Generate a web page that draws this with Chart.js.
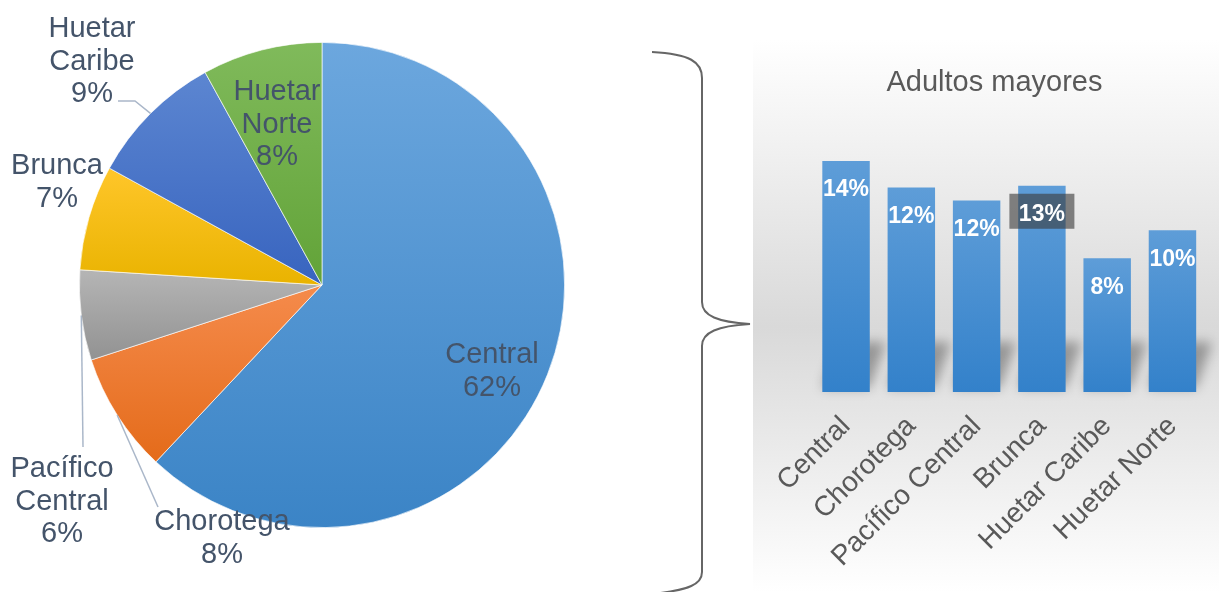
<!DOCTYPE html>
<html>
<head>
<meta charset="utf-8">
<script src="https://cdn.jsdelivr.net/npm/chart.js@4.4.0/dist/chart.umd.min.js"></script>
<style>
  html, body { margin: 0; padding: 0; background: #fff; overflow: hidden; }
  #wrap { position: relative; width: 1219px; height: 592px; }
  #pieBox { position: absolute; left: 0; top: 0; width: 660px; height: 592px; }
  #barBg { position: absolute; left: 753px; top: 40px; width: 466px; height: 552px;
    background: linear-gradient(to bottom, #fff 0%, #d9d9d9 52%, #fff 100%); }
  #barBox { position: absolute; left: 753px; top: 0; width: 466px; height: 592px; }
  #brace { position: absolute; left: 0; top: 0; }
</style>
</head>
<body>
<div id="wrap">
  <div id="barBg"></div>
  <div id="pieBox"><canvas id="pieChart"></canvas></div>
  <div id="barBox"><canvas id="barChart"></canvas></div>
  <svg id="brace" width="1219" height="592">
    <path d="M652,52 C690,54 702,62 702,78 L702,302 C702,316 718,322 750,324 C718,326 702,332 702,346 L702,572 C702,584 690,590 652,594"
          fill="none" stroke="#666" stroke-width="2"/>
  </svg>
</div>
<script>
const regions = ["Central", "Chorotega", "Pacífico Central", "Brunca", "Huetar Caribe", "Huetar Norte"];
const pieShares = [62, 8, 6, 7, 9, 8];
const adultShares = [14, 12.4, 11.6, 12.5, 8.1, 9.8];
const adultLabels = ["14%", "12%", "12%", "13%", "8%", "10%"];
const barTitle = "Adultos mayores";

const fontFamily = "'Liberation Sans', Arial, sans-serif";

// slice gradients (top -> bottom)
const pieTop = ["#6ca7de", "#f58b4c", "#b5b5b5", "#ffc62a", "#5c86d1", "#80ba5b"];
const pieBottom = ["#3b84c6", "#e46b1a", "#929292", "#e9b300", "#3864bf", "#62a338"];

// where each pie label sits (centre of first line) and its leader line
const pieLabelPos = [[492, 355], [222, 522], [62, 469], [57, 166], [92, 29], [277, 92]];
const leaderEnds = { 1: [[158, 507]], 2: [[83, 447]], 4: [[135, 101], [118, 101]] };

function sliceFill(c) {
  const chart = c.chart, area = chart.chartArea, i = c.dataIndex;
  if (!area) return pieTop[i];
  const cy = (area.top + area.bottom) / 2;
  const r = Math.min(area.width, area.height) / 2;
  const total = pieShares.reduce((a, b) => a + b, 0);
  let before = 0;
  for (let k = 0; k < i; k++) before += pieShares[k];
  const a0 = before / total * 2 * Math.PI;
  const a1 = (before + pieShares[i]) / total * 2 * Math.PI;
  const ys = [cy, cy - r * Math.cos(a0), cy - r * Math.cos(a1)];
  if (a0 <= 0) ys.push(cy - r);
  if (a0 < Math.PI && a1 > Math.PI) ys.push(cy + r);
  const g = chart.ctx.createLinearGradient(0, Math.min(...ys), 0, Math.max(...ys));
  g.addColorStop(0, pieTop[i]);
  g.addColorStop(1, pieBottom[i]);
  return g;
}

const pieLabels = {
  id: "pieLabels",
  afterDraw(chart) {
    const ctx = chart.ctx;
    const arcs = chart.getDatasetMeta(0).data;
    ctx.save();
    // leader lines
    ctx.strokeStyle = "#aab7c9";
    ctx.lineWidth = 1.5;
    Object.keys(leaderEnds).forEach(k => {
      const arc = arcs[k];
      const mid = (arc.startAngle + arc.endAngle) / 2;
      ctx.beginPath();
      ctx.moveTo(arc.x + arc.outerRadius * Math.cos(mid), arc.y + arc.outerRadius * Math.sin(mid));
      leaderEnds[k].forEach(p => ctx.lineTo(p[0], p[1]));
      ctx.stroke();
    });
    // texts
    ctx.fillStyle = "#44546a";
    ctx.font = "29px " + fontFamily;
    ctx.textAlign = "center";
    ctx.textBaseline = "middle";
    regions.forEach((name, i) => {
      const lines = name.split(" ").concat([pieShares[i] + "%"]);
      lines.forEach((t, j) => ctx.fillText(t, pieLabelPos[i][0], pieLabelPos[i][1] + j * 32.7));
    });
    ctx.restore();
  }
};

new Chart(document.getElementById("pieChart"), {
  type: "pie",
  data: {
    labels: regions,
    datasets: [{
      data: pieShares,
      backgroundColor: sliceFill,
      borderColor: "rgba(255,255,255,0.8)",
      borderWidth: 0.8
    }]
  },
  options: {
    responsive: true,
    maintainAspectRatio: false,
    animation: false,
    layout: { padding: { left: 79, right: 95, top: 42, bottom: 64 } },
    plugins: { legend: { display: false }, tooltip: { enabled: false } }
  },
  plugins: [pieLabels]
});

function barFill(c) {
  const chart = c.chart, area = chart.chartArea;
  if (!area || !chart.scales.y) return "#4a8fd1";
  const top = chart.scales.y.getPixelForValue(c.raw);
  const g = chart.ctx.createLinearGradient(0, top, 0, area.bottom);
  g.addColorStop(0, "#5e9dd8");
  g.addColorStop(1, "#3381ca");
  return g;
}

const barShadow = {
  id: "barShadow",
  beforeDatasetsDraw(chart) {
    const ctx = chart.ctx;
    const base = chart.chartArea.bottom;
    ctx.save();
    ctx.filter = "blur(6px)";
    ctx.fillStyle = "rgba(0,0,0,0.32)";
    chart.getDatasetMeta(0).data.forEach(bar => {
      const xl = bar.x - bar.width / 2, xr = bar.x + bar.width / 2;
      ctx.beginPath();
      ctx.moveTo(xl, base - 4);
      ctx.lineTo(xr, base - 4);
      ctx.lineTo(xr + 16, base - 50);
      ctx.lineTo(xl + 16, base - 50);
      ctx.closePath();
      ctx.fill();
    });
    ctx.restore();
  }
};

const barLabels = {
  id: "barLabels",
  afterDatasetsDraw(chart) {
    const ctx = chart.ctx;
    ctx.save();
    chart.getDatasetMeta(0).data.forEach((bar, i) => {
      if (i === 3) {
        ctx.fillStyle = "rgba(60,60,60,0.62)";
        ctx.fillRect(bar.x - 32.5, bar.y + 8, 65, 35);
      }
      ctx.fillStyle = "#ffffff";
      ctx.font = "bold 23px " + fontFamily;
      ctx.textAlign = "center";
      ctx.textBaseline = "middle";
      ctx.fillText(adultLabels[i], bar.x, bar.y + 29);
    });
    // title
    ctx.fillStyle = "#595959";
    ctx.font = "29px " + fontFamily;
    ctx.fillText(barTitle, 994.5 - 753, 83);
    ctx.restore();
  }
};

new Chart(document.getElementById("barChart"), {
  type: "bar",
  data: {
    labels: regions,
    datasets: [{
      data: adultShares,
      backgroundColor: barFill,
      borderWidth: 0,
      barPercentage: 0.727,
      categoryPercentage: 1
    }]
  },
  options: {
    responsive: true,
    maintainAspectRatio: false,
    animation: false,
    layout: { padding: { left: 60.4, right: 13.9, top: 144.5, bottom: 0 } },
    plugins: { legend: { display: false }, tooltip: { enabled: false } },
    scales: {
      y: { display: false, min: 0, max: 15 },
      x: {
        grid: { display: false },
        border: { display: false },
        ticks: {
          color: "#595959",
          font: { family: fontFamily, size: 28 },
          minRotation: 45,
          maxRotation: 45,
          padding: 10
        },
        afterFit(scale) { scale.height = 200; }
      }
    }
  },
  plugins: [barShadow, barLabels]
});
</script>
</body>
</html>
